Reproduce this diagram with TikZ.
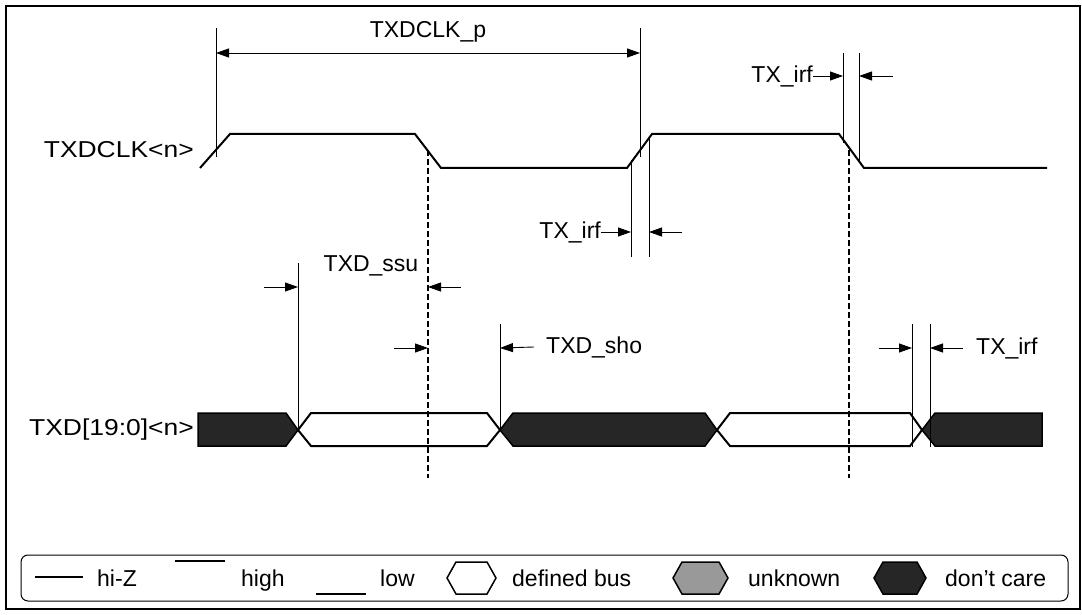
\documentclass[tikz,border=0pt]{standalone}
\usepackage{fontspec}
\setmainfont{Liberation Sans}
\usetikzlibrary{arrows.meta}
\begin{document}
\begin{tikzpicture}[x=1pt,y=-1pt,
  sig/.style={line width=2pt,line join=miter},
  ref/.style={line width=0.9pt},
  dref/.style={line width=1.3pt,dash pattern=on 6pt off 3pt},
  dim/.style={line width=0.9pt,-{Triangle[length=13pt,width=9pt]}},
  lbl/.style={inner sep=0pt,font=\fontsize{23}{26}\selectfont},
  dc/.style={draw=black,line width=1.5pt,fill=black!85},
  bus/.style={draw=black,line width=2pt,fill=white},
  unk/.style={draw=black,line width=1.5pt,fill=black!40}]
\useasboundingbox (0,0) rectangle (1082,615);
% outer frame
\draw[line width=2.5pt] (6,6) rectangle (1080,609);

% ---- clock
\draw[sig] (200,168) -- (230,134) -- (415,134) -- (441,168) -- (627,168)
  -- (652,134) -- (839,134) -- (864,168) -- (1047,168);
\node[lbl,anchor=east] (clk) at (194,150) {\scalebox{1.15}[1]{TXDCLK<n>}};

% ---- bus
\draw[dc] (198,413) -- (286,413) -- (298,430) -- (286,446) -- (198,446) -- cycle;
\draw[bus] (298,430) -- (311,413) -- (487,413) -- (500,430) -- (487,446) -- (311,446) -- cycle;
\draw[dc] (500,430) -- (513,413) -- (705,413) -- (717,430) -- (705,446) -- (513,446) -- cycle;
\draw[bus] (717,430) -- (730,413) -- (910,413) -- (922,430) -- (910,446) -- (730,446) -- cycle;
\draw[dc] (922,430) -- (935,413) -- (1042,413) -- (1042,446) -- (935,446) -- cycle;
\node[lbl,anchor=east] (txd) at (194,430) {\scalebox{1.15}[1]{TXD[19:0]<n>}};

% ---- reference lines
\coordinate (pA) at (216,53);  \draw[ref] (216,28) -- (216,157);
\coordinate (pB) at (640,53);  \draw[ref] (640,28) -- (640,157);
\draw[dref] (428,150) -- (428,478);
\draw[dref] (849,150) -- (849,478);
\draw[ref] (843,53) -- (843,143);
\draw[ref] (859,53) -- (859,163);
\draw[ref] (631,160) -- (631,257);
\draw[ref] (649,136) -- (649,257);
\draw[ref] (298,263) -- (298,430);
\draw[ref] (500,324) -- (500,430);
\draw[ref] (912,324) -- (912,447);
\draw[ref] (930,324) -- (930,447);

% ---- dimension arrows
\draw[line width=0.9pt,{Triangle[length=13pt,width=9pt]}-{Triangle[length=13pt,width=9pt]}] (pA) -- (pB);
\node[lbl] (tp) at (428,32) {TXDCLK\_p};

\node[lbl,anchor=east] (irf1) at (813,76) {TX\_irf};
\coordinate (i1a) at (843,76); \coordinate (i1b) at (893,76); \coordinate (i1c) at (859,76);
\draw[dim] (irf1.east) -- (i1a);
\draw[dim] (i1b) -- (i1c);

\node[lbl,anchor=east] (irf2) at (601,232) {TX\_irf};
\coordinate (i2a) at (631,232); \coordinate (i2b) at (682,232); \coordinate (i2c) at (649,232);
\draw[dim] (irf2.east) -- (i2a);
\draw[dim] (i2b) -- (i2c);

\node[lbl] (ssu) at (371,266) {TXD\_ssu};
\coordinate (s1) at (264,287); \coordinate (s2) at (298,287);
\coordinate (s3) at (461,287); \coordinate (s4) at (428,287);
\draw[dim] (s1) -- (s2);
\draw[dim] (s3) -- (s4);

\node[lbl,anchor=west] (sho) at (546,347) {TXD\_sho};
\coordinate (h1) at (394,348); \coordinate (h2) at (428,348);
\coordinate (h3) at (500,348);
\draw[dim] (h1) -- (h2);
\draw[dim] (sho.west) ++(-12,0) coordinate (h4) (h4) -- (h3);

\node[lbl,anchor=west] (irf3) at (976,348) {TX\_irf};
\coordinate (b1) at (879,348); \coordinate (b2) at (912,348);
\coordinate (b3) at (963,348); \coordinate (b4) at (930,348);
\draw[dim] (b1) -- (b2);
\draw[dim] (b3) -- (b4);

% ---- legend
\draw[line width=1pt,rounded corners=7pt] (21,555) rectangle (1068,601);
\draw[sig] (35,577) -- (83,577);
\node[lbl,anchor=base west] (l1) at (97,586) {hi-Z};
\draw[sig] (175,561) -- (225,561);
\node[lbl,anchor=base west] (l2) at (241,586) {high};
\draw[sig] (316,594) -- (366,594);
\node[lbl,anchor=base west] (l3) at (380,586) {low};
\draw[bus,line width=1.5pt] (447,578) -- (456,562) -- (487,562) -- (496,578) -- (487,594) -- (456,594) -- cycle;
\node[lbl,anchor=base west] (l4) at (512,586) {defined bus};
\draw[unk] (673,578) -- (682,562) -- (719,562) -- (728,578) -- (719,594) -- (682,594) -- cycle;
\node[lbl,anchor=base west] (l5) at (748,586) {unknown};
\draw[dc] (874,578) -- (883,562) -- (917,562) -- (926,578) -- (917,594) -- (883,594) -- cycle;
\node[lbl,anchor=base west] (l6) at (945,586) {don’t care};
\end{tikzpicture}
\end{document}
